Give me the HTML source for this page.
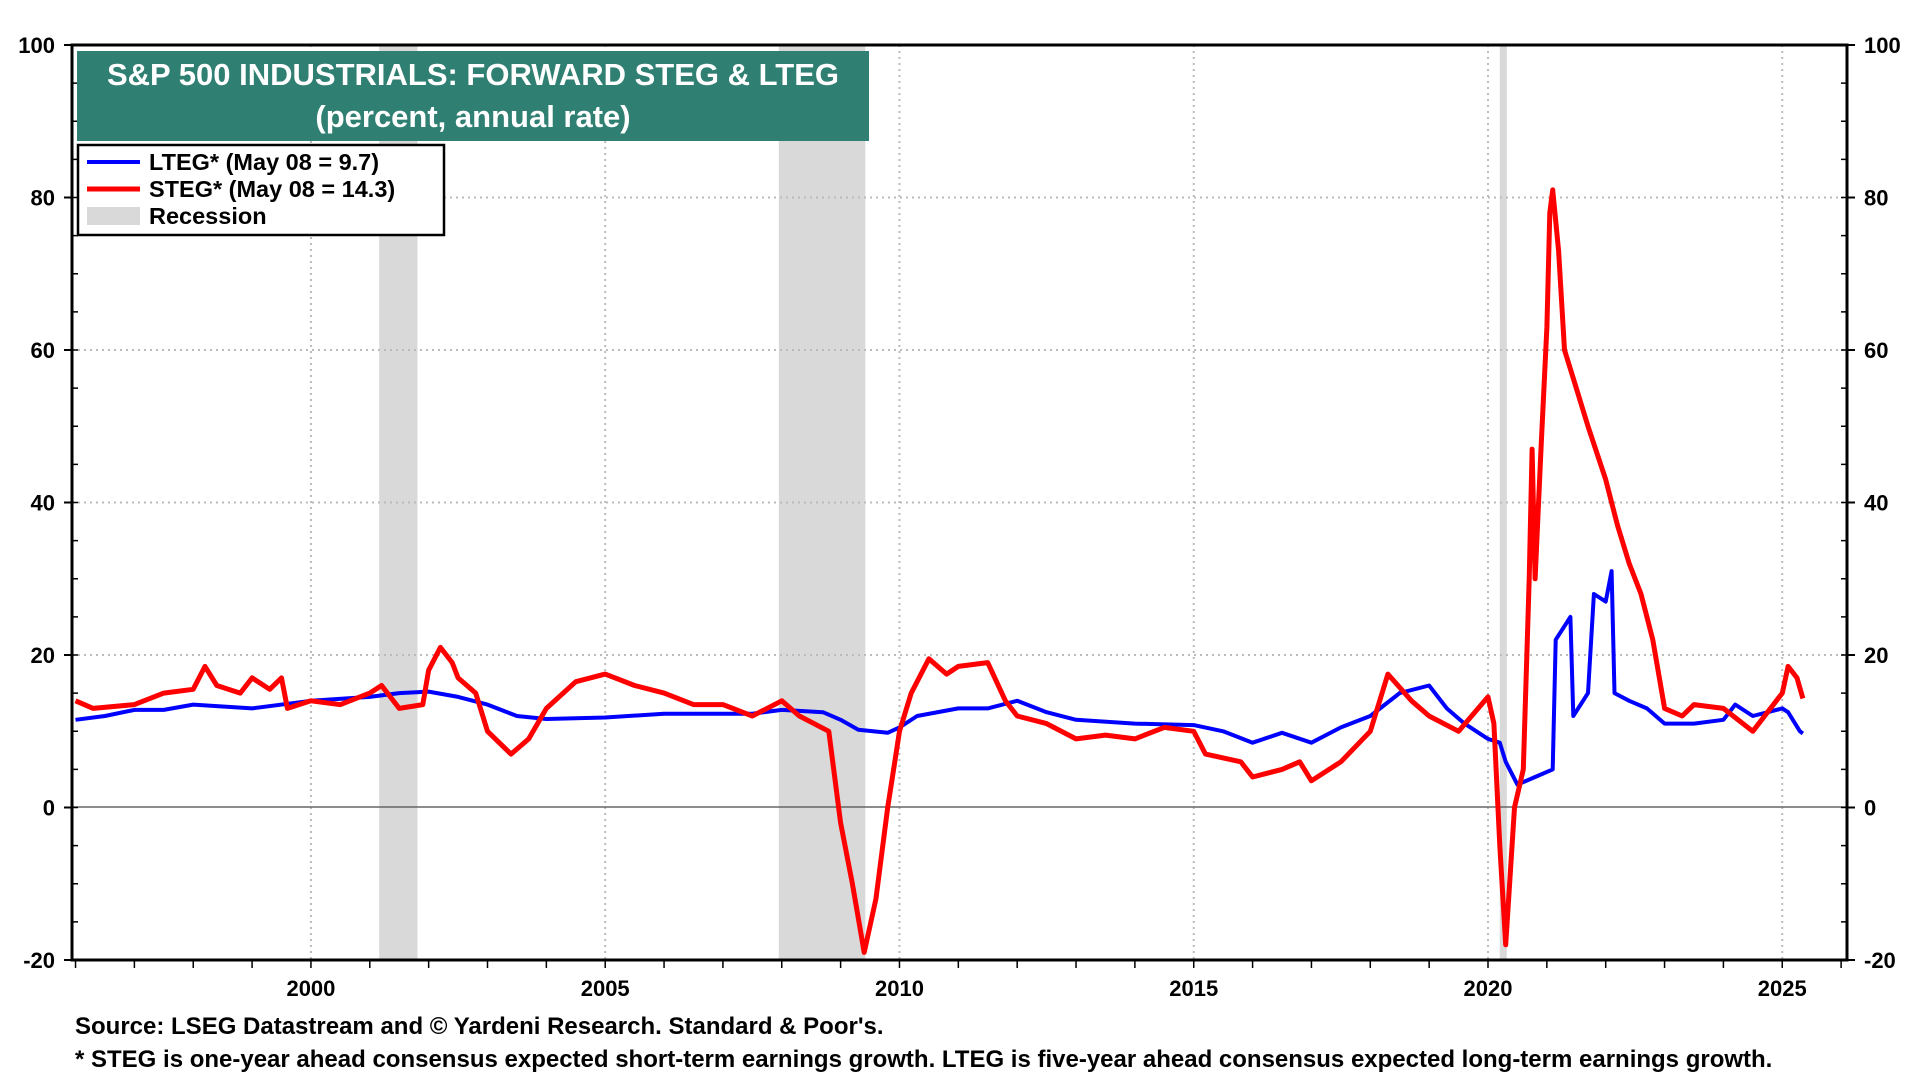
<!DOCTYPE html>
<html><head><meta charset="utf-8"><style>
body{margin:0;background:#fff;font-family:"Liberation Sans",Arial,sans-serif}
svg{display:block}
text{font-family:"Liberation Sans",Arial,sans-serif;font-weight:bold}
</style></head><body>
<svg id="chart" width="1920" height="1080" xmlns="http://www.w3.org/2000/svg">
<g id="rec"></g>
<g id="grid"></g>
<line x1="72" x2="1847" y1="807" y2="807" stroke="#666" stroke-width="1.5"/>
<g id="series"></g>
<rect x="72" y="45" width="1775" height="915" fill="none" stroke="#000" stroke-width="3"/>
<g id="axes"></g>
<rect x="77" y="51" width="792" height="90" fill="#2f7f72"/>
<text x="473" y="85" text-anchor="middle" fill="#fff" font-size="31">S&amp;P 500 INDUSTRIALS: FORWARD STEG &amp; LTEG</text>
<text x="473" y="127" text-anchor="middle" fill="#fff" font-size="31">(percent, annual rate)</text>
<g>
<rect x="78" y="145" width="366" height="90" fill="#fff" stroke="#000" stroke-width="2.5"/>
<line x1="87" x2="140" y1="162" y2="162" stroke="#0000ff" stroke-width="4"/>
<text x="149" y="170" font-size="23.5">LTEG* (May 08 = 9.7)</text>
<line x1="87" x2="140" y1="189" y2="189" stroke="#ff0000" stroke-width="5"/>
<text x="149" y="197" font-size="23.5">STEG* (May 08 = 14.3)</text>
<rect x="87" y="207" width="53" height="18" fill="#d9d9d9"/>
<text x="149" y="224" font-size="23.5">Recession</text>
</g>
<text x="75" y="1034" font-size="24">Source: LSEG Datastream and © Yardeni Research. Standard &amp; Poor's.</text>
<text x="75" y="1067" font-size="24">* STEG is one-year ahead consensus expected short-term earnings growth. LTEG is five-year ahead consensus expected long-term earnings growth.</text>
</svg>
<script>
const ltegYears=[1996,1996.5,1997,1997.5,1998,1999,2000,2001,2001.5,2002,2002.5,2003,2003.5,2004,2005,2006,2007,2007.5,2008,2008.7,2009,2009.3,2009.8,2010,2010.3,2011,2011.5,2012,2012.5,2013,2014,2015,2015.5,2016,2016.5,2017,2017.5,2018,2018.5,2019,2019.3,2019.6,2020,2020.2,2020.3,2020.5,2020.8,2021.1,2021.15,2021.4,2021.45,2021.7,2021.8,2022,2022.1,2022.15,2022.4,2022.7,2023,2023.5,2024,2024.2,2024.5,2025,2025.1,2025.3,2025.35];
const ltegValues=[11.5,12,12.8,12.8,13.5,13,14,14.5,15,15.2,14.5,13.5,12,11.6,11.8,12.3,12.3,12.3,12.8,12.5,11.5,10.2,9.8,10.5,12,13,13,14,12.5,11.5,11,10.8,10,8.5,9.8,8.5,10.5,12,15,16,13,11,9,8.5,6,3,4,5,22,25,12,15,28,27,31,15,14,13,11,11,11.5,13.5,12,13,12.5,10,9.7];
const stegYears=[1996,1996.3,1997,1997.5,1998,1998.2,1998.4,1998.8,1999,1999.3,1999.5,1999.6,2000,2000.5,2001,2001.2,2001.5,2001.9,2002,2002.2,2002.4,2002.5,2002.8,2003,2003.4,2003.7,2004,2004.5,2005,2005.5,2006,2006.5,2007,2007.5,2008,2008.3,2008.8,2009,2009.2,2009.4,2009.6,2009.8,2010,2010.2,2010.5,2010.8,2011,2011.5,2011.8,2012,2012.5,2013,2013.5,2014,2014.5,2015,2015.2,2015.8,2016,2016.5,2016.8,2017,2017.5,2018,2018.3,2018.7,2019,2019.5,2020,2020.1,2020.2,2020.3,2020.45,2020.6,2020.7,2020.75,2020.8,2020.9,2021,2021.05,2021.1,2021.2,2021.3,2021.5,2021.7,2022,2022.2,2022.4,2022.6,2022.8,2023,2023.3,2023.5,2024,2024.5,2025,2025.1,2025.25,2025.35];
const stegValues=[14,13,13.5,15,15.5,18.5,16,15,17,15.5,17,13,14,13.5,15,16,13,13.5,18,21,19,17,15,10,7,9,13,16.5,17.5,16,15,13.5,13.5,12,14,12,10,-2,-10,-19,-12,0,10,15,19.5,17.5,18.5,19,14,12,11,9,9.5,9,10.5,10,7,6,4,5,6,3.5,6,10,17.5,14,12,10,14.5,11,-5,-18,0,5,30,47,30,47,63,78,81,73,60,55,50,43,37,32,28,22,13,12,13.5,13,10,15,18.5,17,14.3];
const recStarts=[2001.16,2007.95,2020.2];
const recEnds=[2001.81,2009.42,2020.32];
const yTicks=[-20,0,20,40,60,80,100];
const xTickYears=[2000,2005,2010,2015,2020,2025];

const NS='http://www.w3.org/2000/svg';
const X0=72,X1=1847,Y0=960,Y1=45,YR0=1995.94,YR1=2026.1,V0=-20,V1=100;
const x=y=>X0+(y-YR0)/(YR1-YR0)*(X1-X0);
const yv=v=>Y0-(v-V0)/(V1-V0)*(Y0-Y1);
function mk(tag,attrs,parent){const e=document.createElementNS(NS,tag);for(const k in attrs)e.setAttribute(k,attrs[k]);parent.appendChild(e);return e;}
const rec=document.getElementById('rec'),grid=document.getElementById('grid'),ser=document.getElementById('series'),axes=document.getElementById('axes');
recStarts.forEach((s,i)=>{const r=mk('rect',{x:x(s),y:Y1,width:x(recEnds[i])-x(s),height:Y0-Y1,fill:'#d9d9d9'},rec);

});
yTicks.forEach(v=>{
 if(v>-20&&v<100&&v!==0){const l=mk('line',{x1:X0,x2:X1,y1:yv(v),y2:yv(v),stroke:'#bbb','stroke-width':2,'stroke-dasharray':'2,4'},grid);
 
 }
 const t1=mk('text',{x:55,y:yv(v)+8,'text-anchor':'end','font-size':22},axes);t1.textContent=v;
 
 
 const t2=mk('text',{x:1864,y:yv(v)+8,'font-size':22},axes);t2.textContent=v;
 
 
 mk('line',{x1:X0-8,x2:X0,y1:yv(v),y2:yv(v),stroke:'#000','stroke-width':2},axes);
 mk('line',{x1:X1,x2:X1+8,y1:yv(v),y2:yv(v),stroke:'#000','stroke-width':2},axes);
});
for(let v=-20;v<=100;v+=5){mk('line',{x1:X0,x2:X0+6,y1:yv(v),y2:yv(v),stroke:'#000','stroke-width':1.5},axes);mk('line',{x1:X1-6,x2:X1,y1:yv(v),y2:yv(v),stroke:'#000','stroke-width':1.5},axes);}
for(let yr=1996;yr<=2026;yr++){mk('line',{x1:x(yr),x2:x(yr),y1:Y0,y2:Y0+8,stroke:'#000','stroke-width':1.5},axes);}
xTickYears.forEach(yr=>{
 const l=mk('line',{x1:x(yr),x2:x(yr),y1:Y1,y2:Y0,stroke:'#bbb','stroke-width':2,'stroke-dasharray':'2,4'},grid);
 
 
 const t=mk('text',{x:x(yr),y:Y0+36,'text-anchor':'middle','font-size':22},axes);t.textContent=yr;
 
 
});
function path(ys,vs){return ys.map((a,i)=>(i?'L':'M')+x(a).toFixed(1)+','+yv(vs[i]).toFixed(1)).join('');}
const pb=mk('path',{d:path(ltegYears,ltegValues),fill:'none',stroke:'#0000ff','stroke-width':4,'stroke-linejoin':'round'},ser);


const pr=mk('path',{d:path(stegYears,stegValues),fill:'none',stroke:'#ff0000','stroke-width':5,'stroke-linejoin':'round'},ser);


</script>
</body></html>
